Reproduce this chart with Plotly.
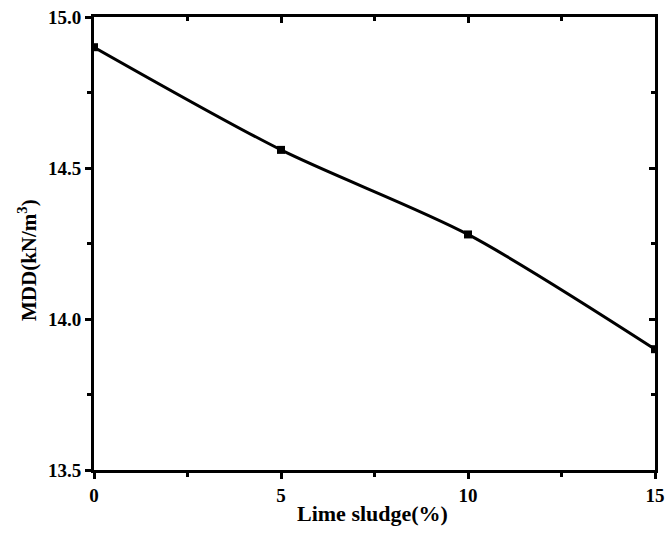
import plotly.graph_objects as go

lime_sludge = [0, 5, 10, 15]
mdd = [14.90, 14.56, 14.28, 13.90]
x_ticks = [0, 5, 10, 15]
y_ticks = [13.5, 14.0, 14.5, 15.0]

FONT = "Liberation Serif"

fig = go.Figure()
fig.add_trace(go.Scatter(
    x=lime_sludge, y=mdd, mode="lines+markers",
    line=dict(color="black", width=3, shape="spline", smoothing=0.8),
    marker=dict(symbol="square", size=8, color="black"),
    cliponaxis=True, showlegend=False,
))
# invisible trace to activate overlay axes
fig.add_trace(go.Scatter(x=lime_sludge, y=mdd, xaxis="x2", yaxis="y2",
                         mode="markers", marker=dict(opacity=0), showlegend=False,
                         hoverinfo="skip"))

axfont = dict(family=FONT, size=19, color="black")
fig.update_layout(
    width=667, height=541,
    margin=dict(l=94, r=12, t=17, b=71, autoexpand=False),
    paper_bgcolor="white", plot_bgcolor="white",
    xaxis=dict(
        range=[0, 15], tickvals=x_ticks, ticktext=[f"<b>{v}</b>" for v in x_ticks],
        ticks="outside", ticklen=6, tickwidth=2.5,
        tickcolor="black", showline=True, linecolor="black", linewidth=3,
        showgrid=False, zeroline=False, tickfont=axfont, automargin=False,
        minor=dict(dtick=2.5, ticks="outside", ticklen=4, tickwidth=2.5, tickcolor="black", showgrid=False),
    ),
    yaxis=dict(
        range=[13.5, 15.0], tickvals=y_ticks, ticktext=[f"<b>{v:.1f}</b>" for v in y_ticks],
        ticks="outside", ticklen=6, tickwidth=2.5,
        tickcolor="black", showline=True, linecolor="black", linewidth=3,
        showgrid=False, zeroline=False, tickfont=axfont, automargin=False,
        minor=dict(dtick=0.25, ticks="outside", ticklen=4, tickwidth=2.5, tickcolor="black", showgrid=False),
    ),
    xaxis2=dict(
        overlaying="x", side="top", range=[0, 15], tickvals=x_ticks, showticklabels=False,
        ticks="inside", ticklen=6, tickwidth=2.5, tickcolor="black", automargin=False,
        showline=True, linecolor="black", linewidth=3, showgrid=False, zeroline=False,
        minor=dict(dtick=2.5, ticks="inside", ticklen=4, tickwidth=2.5, tickcolor="black", showgrid=False),
    ),
    yaxis2=dict(
        overlaying="y", side="right", range=[13.5, 15.0], tickvals=y_ticks, showticklabels=False,
        ticks="inside", ticklen=6, tickwidth=2.5, tickcolor="black", automargin=False,
        showline=True, linecolor="black", linewidth=3, showgrid=False, zeroline=False,
        minor=dict(dtick=0.25, ticks="inside", ticklen=4, tickwidth=2.5, tickcolor="black", showgrid=False),
    ),
    annotations=[
        dict(text="<b>Lime sludge(%)</b>", xref="paper", yref="paper",
             x=0.497, y=0, yshift=-43, xanchor="center", yanchor="middle", showarrow=False,
             font=dict(family=FONT, size=22, color="black")),
        dict(text="<b>MDD(kN/m<sup>3</sup>)</b>", xref="paper", yref="paper",
             x=0, xshift=-67, y=(470 - 260) / 453, xanchor="center", yanchor="middle",
             textangle=-90, showarrow=False,
             font=dict(family=FONT, size=21, color="black")),
    ],
)

fig.write_html("out.html")
